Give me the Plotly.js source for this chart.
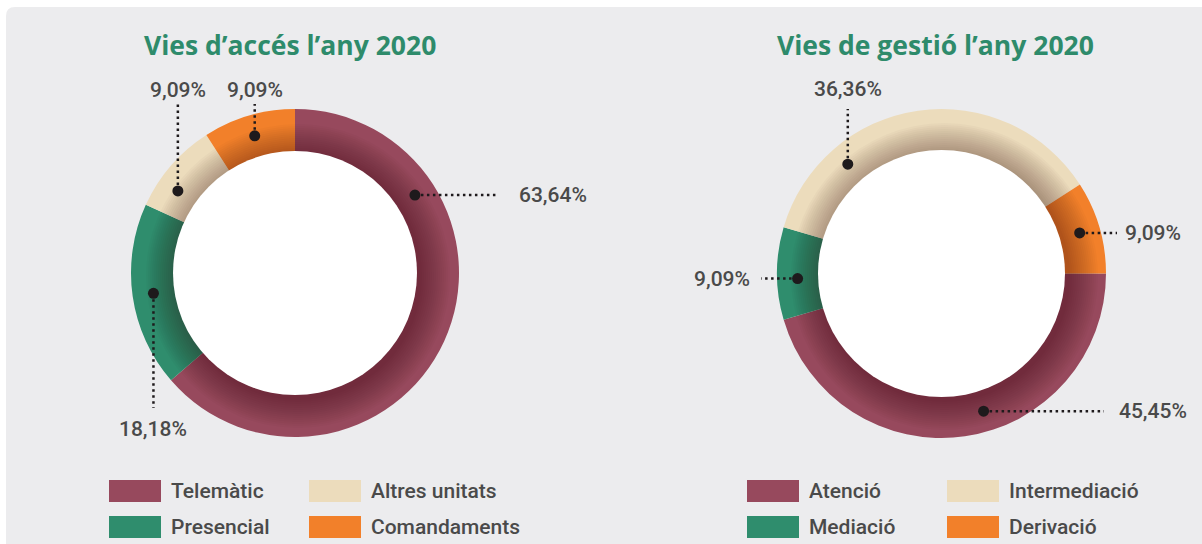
<!DOCTYPE html>
<html>
<head>
<meta charset="utf-8">
<script src="https://cdn.plot.ly/plotly-3.0.1.min.js"></script>
<style>html,body{margin:0;padding:0;background:#fff;}#chart{width:1202px;height:544px;}</style>
</head>
<body>
<div id="chart"></div>
<script>
// ---- data ----
const accesTitle = 'Vies d\u2019accés l\u2019any 2020';
const accesLabels = ['Telemàtic', 'Presencial', 'Altres unitats', 'Comandaments'];
const accesValues = [63.64, 18.18, 9.09, 9.09];
const gestioTitle = 'Vies de gestió l\u2019any 2020';
const gestioLabels = ['Atenció', 'Mediació', 'Intermediació', 'Derivació'];
const gestioValues = [45.45, 9.09, 36.36, 9.09];

// ---- styles / layout config ----
const W = 1202, H = 544;
const COLORS = ['#97495d', '#2f8d6d', '#ecdcbc', '#f2802a'];
const gestioColors = ['#97495d', '#2f8d6d', '#ecdcbc', '#f2802a'];
const TEXT = '#4a4a4a';
const GREEN = '#2e8b6b';

const charts = [
  {
    title: accesTitle, labels: accesLabels, values: accesValues, colors: COLORS,
    cx: 295, cy: 273, rOut: 164, rIn: 122, rotation: 0, titleX: 290,
    legendX: [109, 309],
    leaders: [
      {angle: 57, dir: 'right', end: 498, gap: 19},
      {angle: null, dir: 'down', end: 408, gap: 21},
      {angle: 305, dir: 'up', end: 104, gap: 14},
      {angle: null, dir: 'up', end: 104, gap: 14}
    ]
  },
  {
    title: gestioTitle, labels: gestioLabels, values: gestioValues, colors: gestioColors,
    cx: 941.5, cy: 273.5, rOut: 164.5, rIn: 123.5, rotation: 90, titleX: 935,
    legendX: [747, 947],
    leaders: [
      {angle: 163, dir: 'right', end: 1104, gap: 13},
      {angle: 268, dir: 'left', end: 761, gap: 9},
      {angle: 319.4, dir: 'up', end: 109, gap: 20},
      {angle: null, dir: 'right', end: 1117, gap: 6}
    ]
  }
];

const X = px => px / W;
const Y = py => 1 - py / H;
const fmt = v => v.toFixed(2).replace('.', ',') + '%';

const traces = [];
const shapes = [];
const annotations = [];

// background panel with rounded top-left corner
(function () {
  const x0 = 6, y0 = 7, x1 = 1212, y1 = 560, r = 9;
  const p = `M ${X(x0)} ${Y(y1)} L ${X(x0)} ${Y(y0 + r)} Q ${X(x0)} ${Y(y0)} ${X(x0 + r)} ${Y(y0)} L ${X(x1)} ${Y(y0)} L ${X(x1)} ${Y(y1)} Z`;
  shapes.push({type: 'path', xref: 'paper', yref: 'paper', path: p, fillcolor: '#ececee', line: {width: 0}, layer: 'below'});
})();

charts.forEach((c, ci) => {
  traces.push({
    type: 'pie',
    labels: c.labels,
    values: c.values,
    sort: false,
    direction: 'clockwise',
    rotation: c.rotation,
    hole: 0.6,
    textinfo: 'none',
    hoverinfo: 'label+percent',
    marker: {colors: c.colors, line: {width: 0}},
    domain: {x: [X(c.cx - c.rOut), X(c.cx + c.rOut)], y: [Y(c.cy + c.rOut), Y(c.cy - c.rOut)]},
    showlegend: false
  });

  // inner shadow of the centre disc
  for (let k = 15; k >= 1; k--) {
    const r = c.rIn + 2 * k, ox = 3, oy = 3;
    shapes.push({type: 'circle', xref: 'paper', yref: 'paper', layer: 'above',
      x0: X(c.cx + ox - r), x1: X(c.cx + ox + r), y0: Y(c.cy + oy + r), y1: Y(c.cy + oy - r),
      fillcolor: 'rgba(30,0,15,0.022)', line: {width: 0}});
  }
  shapes.push({type: 'circle', xref: 'paper', yref: 'paper', layer: 'above',
    x0: X(c.cx - c.rIn), x1: X(c.cx + c.rIn), y0: Y(c.cy + c.rIn), y1: Y(c.cy - c.rIn),
    fillcolor: '#ffffff', line: {width: 0}});

  // title
  annotations.push({xref: 'paper', yref: 'paper', x: X(c.titleX), y: Y(45), xanchor: 'center', yanchor: 'middle',
    text: '<b>' + c.title + '</b>', showarrow: false,
    font: {family: '"Open Sans", Lato, sans-serif', size: 26.5, color: GREEN}});

  // value labels with dotted leaders
  const total = c.values.reduce((a, b) => a + b, 0);
  let acc = 0;
  const rMid = (c.rIn + c.rOut) / 2;
  c.values.forEach((v, i) => {
    const start = c.rotation + acc / total * 360;
    acc += v;
    const end = c.rotation + acc / total * 360;
    const L = c.leaders[i];
    const ang = (L.angle === null ? (start + end) / 2 : L.angle) * Math.PI / 180;
    const dx = c.cx + rMid * Math.sin(ang);
    const dy = c.cy - rMid * Math.cos(ang);
    let lx = dx, ly = dy, tx, ty, xa = 'center';
    if (L.dir === 'right') { lx = L.end; tx = L.end + L.gap; ty = dy; xa = 'left'; }
    else if (L.dir === 'left') { lx = L.end; tx = L.end - L.gap; ty = dy; xa = 'right'; }
    else if (L.dir === 'up') { ly = L.end; tx = dx; ty = L.end - L.gap; }
    else { ly = L.end; tx = dx; ty = L.end + L.gap; }
    shapes.push({type: 'line', xref: 'paper', yref: 'paper', layer: 'above',
      x0: X(dx), y0: Y(dy), x1: X(lx), y1: Y(ly),
      line: {color: '#1e1a1c', width: 2.5, dash: '2.5px,3.5px'}});
    const dr = 5.5;
    shapes.push({type: 'circle', xref: 'paper', yref: 'paper', layer: 'above',
      x0: X(dx - dr), x1: X(dx + dr), y0: Y(dy + dr), y1: Y(dy - dr),
      fillcolor: '#1e1a1c', line: {width: 0}});
    annotations.push({xref: 'paper', yref: 'paper', x: X(tx), y: Y(ty), xanchor: xa, yanchor: 'middle',
      text: fmt(v), showarrow: false,
      font: {family: 'Roboto, sans-serif', size: 21, color: TEXT, weight: 500}});
  });

  // legend (2 columns x 2 rows)
  c.labels.forEach((lab, i) => {
    const col = Math.floor(i / 2), row = i % 2;
    const sx = c.legendX[col], sy = 480 + row * 36;
    shapes.push({type: 'rect', xref: 'paper', yref: 'paper', layer: 'above',
      x0: X(sx), x1: X(sx + 52), y0: Y(sy + 22), y1: Y(sy),
      fillcolor: c.colors[i], line: {width: 0}});
    annotations.push({xref: 'paper', yref: 'paper', x: X(sx + 60), y: Y(sy + 11), xanchor: 'left', yanchor: 'middle',
      text: lab, showarrow: false,
      font: {family: 'Roboto, sans-serif', size: 21, color: TEXT, weight: 500}});
  });
});

const layout = {
  width: W, height: H,
  margin: {l: 0, r: 0, t: 0, b: 0},
  paper_bgcolor: '#ffffff',
  plot_bgcolor: 'rgba(0,0,0,0)',
  showlegend: false,
  shapes: shapes,
  annotations: annotations
};

Plotly.newPlot('chart', traces, layout, {displayModeBar: false, staticPlot: true});
</script>
</body>
</html>
